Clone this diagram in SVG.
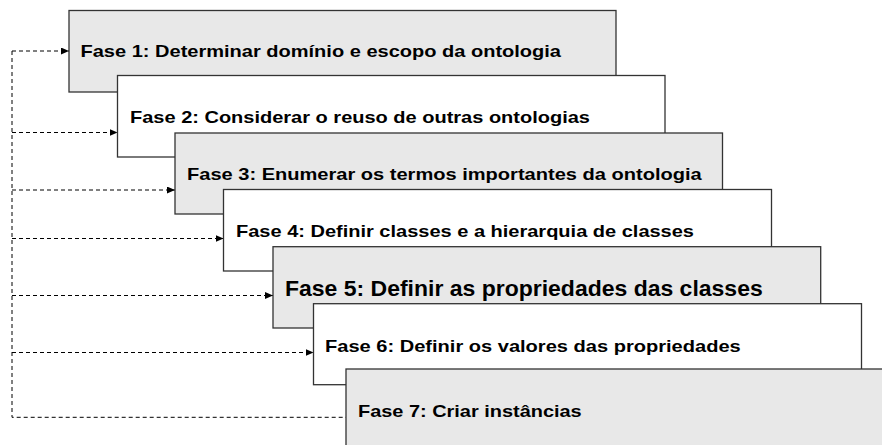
<svg xmlns="http://www.w3.org/2000/svg" width="882" height="445" viewBox="0 0 882 445">
<style>
.box{stroke:#333;stroke-width:1.3}
.g{fill:#e8e8e8}
.w{fill:#fff}
.t{font-family:"Liberation Sans",Arial,sans-serif;font-weight:bold;fill:#000}
.s{font-size:17px}
.b{font-size:22.5px}
.c{fill:none;stroke:#000;stroke-width:1;stroke-dasharray:4 3}
</style>
<defs>
<marker id="ah" viewBox="0 0 8 7" refX="8" refY="3.5" markerWidth="8" markerHeight="7" markerUnits="userSpaceOnUse" orient="auto">
<path d="M0,0 L8,3.5 L0,7 Z" fill="#000"/>
</marker>
</defs>
<rect width="882" height="445" fill="#fff"/>
<g id="connectors">
<path class="c" d="M12,51 V417.3 H346"/>
<path class="c" d="M12,51 H69" marker-end="url(#ah)"/>
<path class="c" d="M12,132.5 H117.5" marker-end="url(#ah)"/>
<path class="c" d="M12,190 H175" marker-end="url(#ah)"/>
<path class="c" d="M12,238.5 H223.5" marker-end="url(#ah)"/>
<path class="c" d="M12,295.5 H273" marker-end="url(#ah)"/>
<path class="c" d="M12,352.5 H313.5" marker-end="url(#ah)"/>
</g>
<g id="fase1">
<rect class="box g" x="69" y="10.5" width="547" height="81.5"/>
<text class="t s" x="80.5" y="57" textLength="480.5" lengthAdjust="spacingAndGlyphs">Fase 1: Determinar domínio e escopo da ontologia</text>
</g>
<g id="fase2">
<rect class="box w" x="117.5" y="75.5" width="547.5" height="81.5"/>
<text class="t s" x="130" y="123.3" textLength="460" lengthAdjust="spacingAndGlyphs">Fase 2: Considerar o reuso de outras ontologias</text>
</g>
<g id="fase3">
<rect class="box g" x="175" y="133" width="547.5" height="81"/>
<text class="t s" x="187" y="180" textLength="514.7" lengthAdjust="spacingAndGlyphs">Fase 3: Enumerar os termos importantes da ontologia</text>
</g>
<g id="fase4">
<rect class="box w" x="223.5" y="189.5" width="548" height="81.5"/>
<text class="t s" x="236" y="237.3" textLength="458" lengthAdjust="spacingAndGlyphs">Fase 4: Definir classes e a hierarquia de classes</text>
</g>
<g id="fase5">
<rect class="box g" x="273" y="246.7" width="547.7" height="81.3"/>
<text class="t b" x="285" y="296" textLength="477.7" lengthAdjust="spacingAndGlyphs">Fase 5: Definir as propriedades das classes</text>
</g>
<g id="fase6">
<rect class="box w" x="313.5" y="303.7" width="548" height="81"/>
<text class="t s" x="325" y="351.7" textLength="415.7" lengthAdjust="spacingAndGlyphs">Fase 6: Definir os valores das propriedades</text>
</g>
<g id="fase7">
<rect class="box g" x="346" y="369" width="548" height="81"/>
<text class="t s" x="358" y="416.7" textLength="223.7" lengthAdjust="spacingAndGlyphs">Fase 7: Criar instâncias</text>
</g>
</svg>
